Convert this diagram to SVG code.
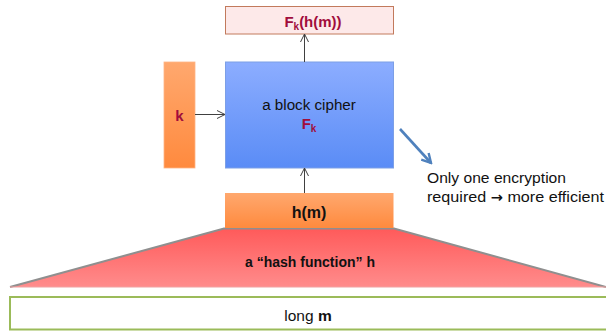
<svg xmlns="http://www.w3.org/2000/svg" width="606" height="331" viewBox="0 0 606 331">
  <defs>
    <linearGradient id="gBlue" x1="0" y1="0" x2="0" y2="1">
      <stop offset="0" stop-color="#8cadff"/>
      <stop offset="1" stop-color="#5a8cf6"/>
    </linearGradient>
    <linearGradient id="gOrange" x1="0" y1="0" x2="0" y2="1">
      <stop offset="0" stop-color="#ffa86e"/>
      <stop offset="1" stop-color="#ff8a3e"/>
    </linearGradient>
    <linearGradient id="gRed" x1="0" y1="0" x2="0" y2="1">
      <stop offset="0" stop-color="#ff5a5a"/>
      <stop offset="1" stop-color="#ff8c8c"/>
    </linearGradient>
    <marker id="open" viewBox="0 0 10 10" refX="9" refY="5" markerWidth="10" markerHeight="10" markerUnits="userSpaceOnUse" orient="auto">
      <path d="M1,1 L9,5 L1,9" fill="none" stroke="#404040" stroke-width="1"/>
    </marker>
    <marker id="blueHead" viewBox="0 0 12 12" refX="10" refY="6" markerWidth="12" markerHeight="12" markerUnits="userSpaceOnUse" orient="auto">
      <path d="M1,1 L10,6 L1,11" fill="none" stroke="#4f81bd" stroke-width="2.4" stroke-linejoin="miter"/>
    </marker>
  </defs>
  <style>
    text { font-family: "Liberation Sans", Arial, sans-serif; }
    .dark { fill: #111111; }
    .red { fill: #a10d3c; font-weight: bold; }
    .bold { font-weight: bold; fill: #111111; }
    .link { stroke: #404040; stroke-width: 1; fill: none; }
    .sym { font-family: "DejaVu Sans", sans-serif; font-weight: bold; }
  </style>

  <!-- hash function: wide input narrowing to the digest -->
  <g id="hash">
    <polygon points="224,228.5 394,228.5 606,287 10,287" fill="url(#gRed)"/>
    <polyline points="10,287 224,228.5 394,228.5 606,287" fill="none" stroke="#8f8f8f" stroke-width="2"/>
    <line x1="10" y1="287" x2="606" y2="287" stroke="#f0a0a0" stroke-width="1"/>
    <text x="310" y="267" class="bold" font-size="14" text-anchor="middle">a “hash function” h</text>
  </g>

  <g id="message">
    <rect x="10" y="297" width="600" height="32.5" fill="#ffffff" stroke="#9bbb59" stroke-width="2"/>
    <text x="308" y="321" class="dark" font-size="15.5" text-anchor="middle">long <tspan font-weight="bold">m</tspan></text>
  </g>

  <g id="digest">
    <rect x="225" y="193" width="168.5" height="35" fill="url(#gOrange)"/>
    <text x="309" y="218" class="bold" font-size="16" text-anchor="middle">h(m)</text>
  </g>

  <g id="cipher">
    <rect x="225.5" y="62" width="168" height="106" fill="url(#gBlue)" stroke="#7c9fe6" stroke-width="1"/>
    <text x="309" y="110" class="dark" font-size="15.2" text-anchor="middle">a block cipher</text>
    <text x="309" y="129" class="red" font-size="15" text-anchor="middle">F<tspan font-size="10" dy="3">k</tspan></text>
  </g>

  <g id="key">
    <rect x="164" y="62" width="31" height="106" fill="url(#gOrange)" stroke="#ffb585" stroke-width="0.8"/>
    <text x="179.5" y="121" class="red" font-size="15" text-anchor="middle">k</text>
  </g>

  <g id="output">
    <rect x="225.5" y="6.5" width="168" height="27.5" fill="#fde9e9" stroke="#c27a5c" stroke-width="1"/>
    <text x="313" y="27" class="red" font-size="15" text-anchor="middle">F<tspan font-size="10" dy="3">k</tspan><tspan dy="-3">(h(m))</tspan></text>
  </g>

  <g id="note">
    <text x="427" y="183" class="dark" font-size="15.5" textLength="139" lengthAdjust="spacingAndGlyphs">Only one encryption</text>
    <text x="427" y="202" class="dark" font-size="15.5" textLength="177" lengthAdjust="spacingAndGlyphs">required <tspan class="sym" font-size="14">→</tspan> more efficient</text>
  </g>

  <g id="connectors">
    <line class="link" x1="195" y1="114.5" x2="225" y2="114.5" marker-end="url(#open)"/>
    <line class="link" x1="304.5" y1="193" x2="304.5" y2="168" marker-end="url(#open)"/>
    <line class="link" x1="304.5" y1="62" x2="304.5" y2="34" marker-end="url(#open)"/>
    <line x1="400" y1="129" x2="431" y2="163" stroke="#4f81bd" stroke-width="2.6" marker-end="url(#blueHead)"/>
  </g>
</svg>
